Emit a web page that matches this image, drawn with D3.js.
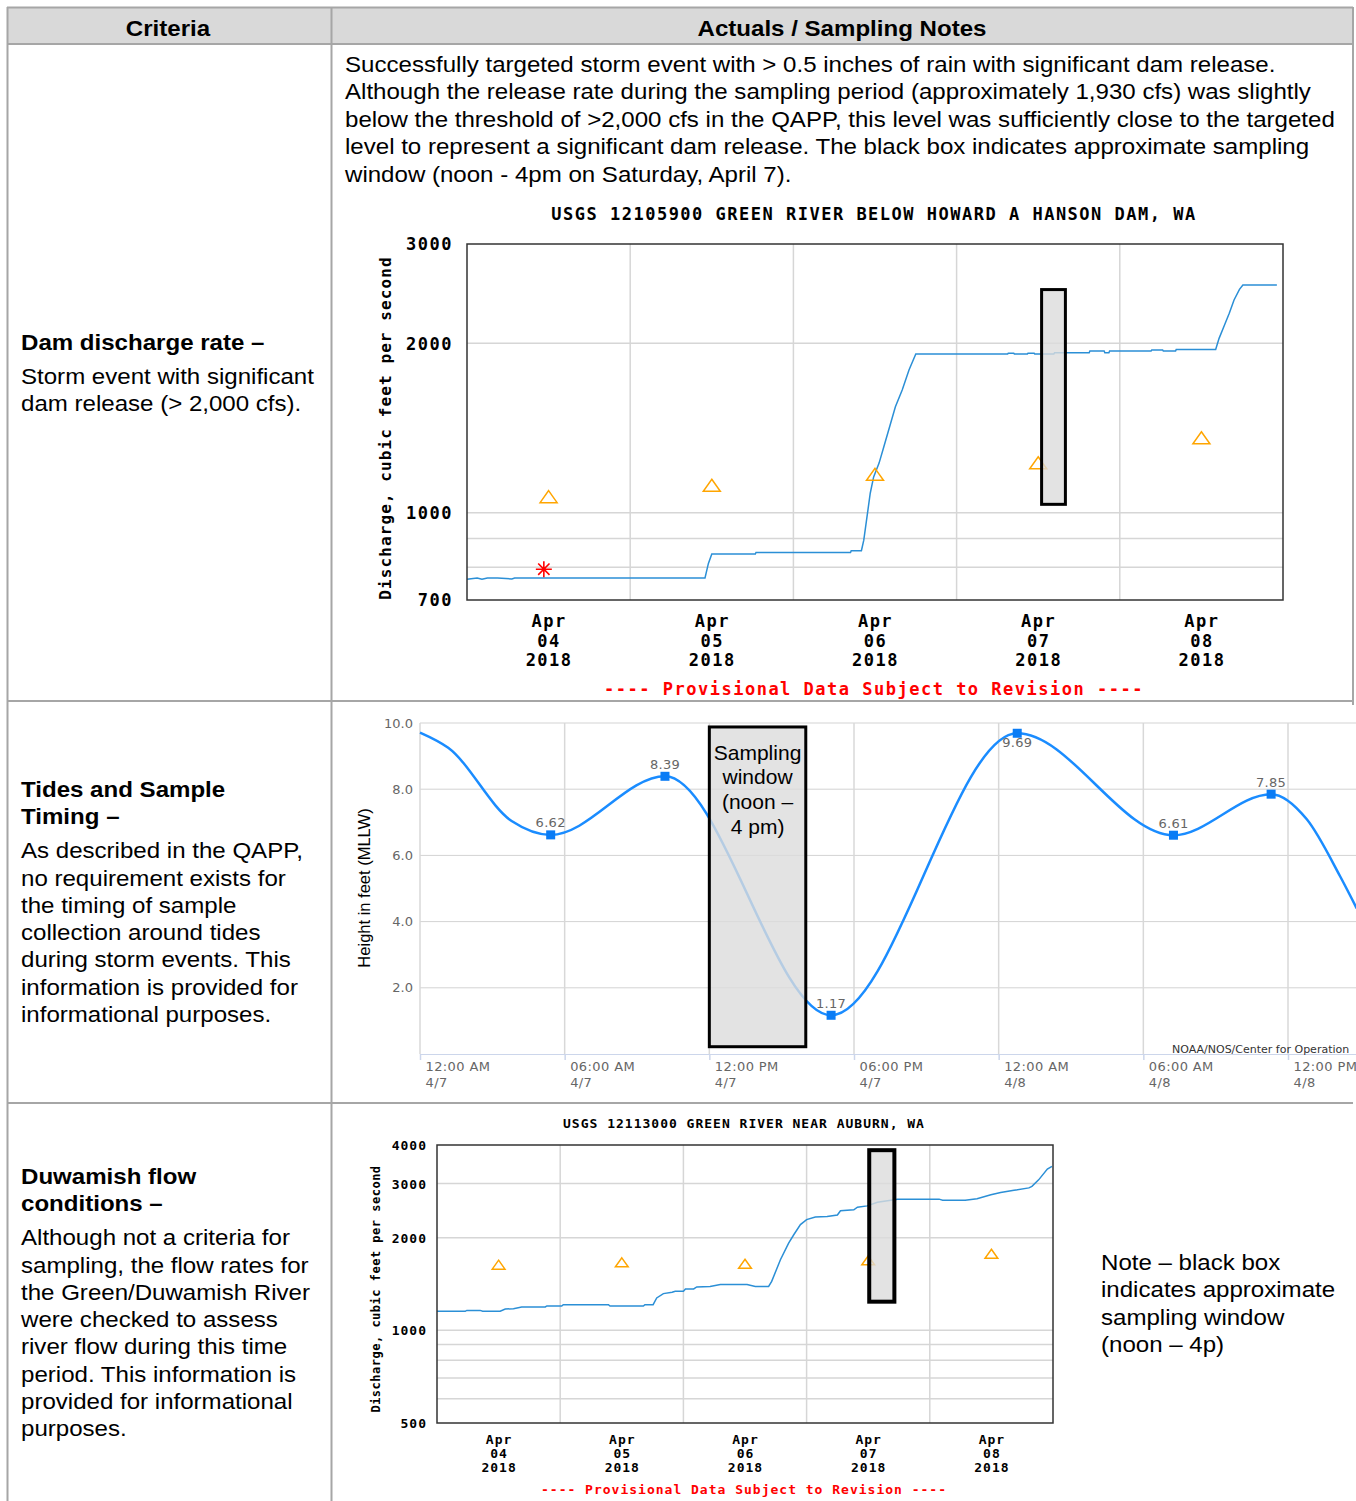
<!DOCTYPE html>
<html>
<head>
<meta charset="utf-8">
<script src="https://cdn.jsdelivr.net/npm/d3@7.9.0/dist/d3.min.js"></script>
<style>
  body { margin: 0; background: #fff; }
</style>
</head>
<body>
<div id="chart"></div>
<script>
// ---------- table text ----------
const headers = ["Criteria", "Actuals / Sampling Notes"];
const damCriteria = ["Dam discharge rate –", "Storm event with significant", "dam release (> 2,000 cfs)."];
const damCriteriaBold = 1;
const damNotes = [
  "Successfully targeted storm event with > 0.5 inches of rain with significant dam release.",
  "Although the release rate during the sampling period (approximately 1,930 cfs) was slightly",
  "below the threshold of >2,000 cfs in the QAPP, this level was sufficiently close to the targeted",
  "level to represent a significant dam release. The black box indicates approximate sampling",
  "window (noon - 4pm on Saturday, April 7)."
];
const tideCriteria = ["Tides and Sample", "Timing –", "As described in the QAPP,", "no requirement exists for",
  "the timing of sample", "collection around tides", "during storm events. This",
  "information is provided for", "informational purposes."];
const tideCriteriaBold = 2;
const flowCriteria = ["Duwamish flow", "conditions –", "Although not a criteria for", "sampling, the flow rates for",
  "the Green/Duwamish River", "were checked to assess", "river flow during this time",
  "period. This information is", "provided for informational", "purposes."];
const flowCriteriaBold = 2;
const flowNote = ["Note – black box", "indicates approximate", "sampling window", "(noon – 4p)"];

// ---------- USGS 12105900 (hours since Apr 4 00:00, cfs) ----------
const dayLabels = ["04", "05", "06", "07", "08"];
const dayNoonHours = [12, 36, 60, 84, 108];
const midnightHours = [24, 48, 72, 96];
const damHours = [0, 1.5, 2.2, 3, 4.5, 6.6, 7.0, 35.0, 35.5, 36.0, 42.4, 42.5, 56.4, 56.5, 58.0, 58.35,
  59.3, 59.8, 60.6, 61.3, 62.3, 63.0, 64.0, 65.0, 66.0, 79.5, 79.6, 80.4, 80.5, 82.4, 82.5, 83.4, 83.5,
  86.3, 86.4, 91.5, 91.6, 93.7, 93.8, 94.4, 94.5, 100.6, 100.7, 102.3, 102.4, 104.2, 104.3,
  110.1, 110.6, 111.4, 112.1, 112.8, 113.6, 114.1, 119.1];
const damCfs = [762, 766, 762, 766, 766, 763, 766, 766, 813, 845, 845, 850, 850, 856, 856, 894,
  1083, 1158, 1225, 1310, 1442, 1542, 1651, 1792, 1913, 1913, 1920, 1920, 1913, 1913, 1920, 1920, 1913,
  1913, 1924, 1924, 1937, 1937, 1924, 1924, 1937, 1937, 1946, 1946, 1937, 1937, 1950,
  1950, 2040, 2154, 2260, 2386, 2492, 2536, 2536];
const damMedianCfs = [1068, 1119, 1170, 1227, 1359];
const damMeasuredHour = [11.3];
const damMeasuredCfs = [794];
const damBoxHours = [84.5, 88];
const damBoxCfs = [1035, 2490];
const damTicks = [700, 1000, 2000, 3000];
const damGrid = [800, 900, 1000, 2000];

// ---------- USGS 12113000 ----------
const aubHours = [0, 5.5, 5.8, 8.4, 8.9, 12.3, 13.3, 14.9, 16.5, 21.1, 21.4, 24.3, 24.6, 33.4, 33.7, 40.2,
  40.5, 42.1, 42.8, 44.1, 45.8, 46.4, 48.0, 48.4, 50.0, 50.6, 53.2, 55.2, 60.4, 62.0, 64.6, 65.2, 66.9,
  68.5, 69.5, 70.8, 72.0, 73.7, 76.0, 78.0, 78.6, 81.2, 81.9, 83.8, 85.8, 88.4, 89.7, 97.8, 98.5, 102.9,
  105.2, 107.9, 109.8, 112.4, 115.3, 115.9, 117.2, 118.9, 119.8];
const aubCfs = [1153, 1153, 1161, 1161, 1153, 1153, 1173, 1176, 1191, 1191, 1200, 1200, 1212, 1212, 1200, 1200,
  1212, 1212, 1274, 1316, 1329, 1339, 1339, 1363, 1363, 1383, 1389, 1410, 1410, 1389, 1389, 1442, 1696,
  1921, 2044, 2205, 2289, 2335, 2344, 2369, 2445, 2463, 2513, 2537, 2605, 2647, 2668, 2668, 2647, 2647,
  2677, 2757, 2806, 2850, 2902, 2937, 3082, 3340, 3407];
const aubMedianCfs = [1634, 1663, 1646, 1688, 1774];
const aubBoxHours = [84.2, 89.1];
const aubBoxCfs = [1239, 3848];
const aubTicks = [500, 1000, 2000, 3000, 4000];
const aubGrid = [600, 700, 800, 900, 1000, 2000, 3000];

// ---------- tides (hours since Apr 7 00:00, feet MLLW) ----------
const tideHiLoHours = [5.42, 10.16, 17.05, 24.77, 31.25, 35.3];
const tideHiLoFeet = [6.62, 8.39, 1.17, 9.69, 6.61, 7.85];
const tideReadHours = [0, 1.17, 3.80, 36.78, 38.16, 38.85];
const tideReadFeet = [9.71, 9.25, 7.04, 7.09, 5.37, 4.40];
const tideTickHours = [0, 6, 12, 18, 24, 30, 36];
const tideTickTime = ["12:00 AM", "06:00 AM", "12:00 PM", "06:00 PM", "12:00 AM", "06:00 AM", "12:00 PM"];
const tideTickDay = ["4/7", "4/7", "4/7", "4/7", "4/8", "4/8", "4/8"];
const tideYTicks = [2, 4, 6, 8, 10];
const tideBoxHours = [12, 16];
const tideBoxFeet = [0.22, 9.88];
const tideBoxText = ["Sampling", "window", "(noon –", "4 pm)"];

// ---------- page ----------
const W = 1356, H = 1501;
const sans = "'Liberation Sans', Arial, sans-serif";
const mono = "'DejaVu Sans Mono', monospace";
const hc = "'DejaVu Sans', Verdana, sans-serif";
const lineGray = "#a6a6a6";
const stretch = 1.095; // the document text is set a little wider than Arial

const svg = d3.select('#chart').append('svg')
  .attr('width', W).attr('height', H);

// table
svg.append('rect').attr('x', 7).attr('y', 7).attr('width', 1346).attr('height', 37).attr('fill', '#d9d9d9');
const tableLines = [
  [7, 7.5, 1353, 7.5], [7, 44, 1353, 44], [7, 701, 1353, 701], [7, 1103, 1353, 1103],
  [7.5, 7, 7.5, H], [331.5, 7, 331.5, H], [1353, 7, 1353, 706]
];
svg.append('g').selectAll('line').data(tableLines).join('line')
  .attr('x1', d => d[0]).attr('y1', d => d[1]).attr('x2', d => d[2]).attr('y2', d => d[3])
  .attr('stroke', lineGray).attr('stroke-width', 2);

headers.forEach((h, i) => {
  svg.append('g').attr('transform', `translate(${i === 0 ? 168 : 842},0) scale(${stretch},1)`)
    .append('text')
    .attr('x', 0).attr('y', 28)
    .attr('text-anchor', 'middle').attr('dominant-baseline', 'central')
    .style('font-family', sans).style('font-size', '22px').style('font-weight', 'bold')
    .text(h);
});

function textBlock(lines, x, y0, step, nBold) {
  svg.append('g').attr('transform', `translate(${x},0) scale(${stretch},1)`)
    .selectAll('text').data(lines).join('text')
    .attr('x', 0).attr('y', (d, i) => y0 + i * step + (i >= nBold && nBold > 0 ? 7 : 0))
    .attr('dominant-baseline', 'central')
    .style('font-family', sans).style('font-size', '22px')
    .style('font-weight', (d, i) => i < nBold ? 'bold' : 'normal')
    .text(d => d);
}
textBlock(damCriteria, 21, 342, 27.3, damCriteriaBold);
textBlock(tideCriteria, 21, 789, 27.3, tideCriteriaBold);
textBlock(flowCriteria, 21, 1176, 27.3, flowCriteriaBold);
textBlock(damNotes, 345, 64, 27.5, 0);
textBlock(flowNote, 1101, 1262, 27.6, 0);

// ---------- USGS style chart ----------
function usgsChart(cfg) {
  const g = svg.append('g');
  const x = d3.scaleLinear().domain([0, 120]).range([cfg.left, cfg.right]);
  const y = d3.scaleLog().domain(cfg.yDomain).range([cfg.bottom, cfg.top]);
  const fs = cfg.fs;

  g.append('g').selectAll('line').data(cfg.grid).join('line')
    .attr('x1', cfg.left).attr('x2', cfg.right)
    .attr('y1', d => y(d)).attr('y2', d => y(d))
    .attr('stroke', '#d6d6d6').attr('stroke-width', 1.5);
  g.append('g').selectAll('line').data(midnightHours).join('line')
    .attr('x1', d => x(d)).attr('x2', d => x(d))
    .attr('y1', cfg.top).attr('y2', cfg.bottom)
    .attr('stroke', '#d6d6d6').attr('stroke-width', 1.5);

  const pts = cfg.hours.map((h, i) => [h, cfg.cfs[i]]);
  g.append('path').datum(pts)
    .attr('fill', 'none').attr('stroke', '#2b8fd6').attr('stroke-width', 1.5)
    .attr('d', d3.line().x(d => x(d[0])).y(d => y(d[1])));

  const tri = `M0,${-6 * cfg.tri}L${8.5 * cfg.tri},${6 * cfg.tri}L${-8.5 * cfg.tri},${6 * cfg.tri}Z`;
  g.append('g').selectAll('path').data(cfg.median).join('path')
    .attr('transform', (d, i) => `translate(${x(dayNoonHours[i])},${y(d)})`)
    .attr('d', tri).attr('fill', 'none').attr('stroke', '#ffa500').attr('stroke-width', 1.5);

  if (cfg.measuredHour) {
    const r = 8;
    g.append('g').selectAll('path').data(cfg.measuredHour).join('path')
      .attr('transform', (d, i) => `translate(${x(d)},${y(cfg.measuredCfs[i])})`)
      .attr('d', () => {
        const p = d3.path();
        [0, 45, 90, 135].forEach(a => {
          const c = Math.cos(a * Math.PI / 180) * r, s = Math.sin(a * Math.PI / 180) * r;
          p.moveTo(-c, -s); p.lineTo(c, s);
        });
        return p.toString();
      })
      .attr('stroke', '#ff0000').attr('stroke-width', 1.6);
  }

  // sampling window box
  g.append('rect')
    .attr('x', x(cfg.boxHours[0])).attr('y', y(cfg.boxCfs[1]))
    .attr('width', x(cfg.boxHours[1]) - x(cfg.boxHours[0]))
    .attr('height', y(cfg.boxCfs[0]) - y(cfg.boxCfs[1]))
    .attr('fill', '#dcdcdc').attr('fill-opacity', 0.8)
    .attr('stroke', '#000').attr('stroke-width', cfg.boxStroke);

  // frame
  g.append('rect')
    .attr('x', cfg.left).attr('y', cfg.top)
    .attr('width', cfg.right - cfg.left).attr('height', cfg.bottom - cfg.top)
    .attr('fill', 'none').attr('stroke', '#333').attr('stroke-width', 1.5);

  const styleText = sel => sel
    .style('font-family', mono).style('font-weight', 'bold')
    .style('font-size', fs + 'px').style('letter-spacing', cfg.ls + 'px');

  const ya = g.append('g')
    .attr('transform', `translate(${cfg.left},0)`)
    .call(d3.axisLeft(y).tickValues(cfg.ticks).tickFormat(d3.format('d')).tickSize(0).tickPadding(cfg.left - cfg.labelRight));
  ya.select('.domain').remove();
  ya.selectAll('text').attr('fill', '#000').call(styleText).attr('dy', '0.35em');

  const xa = g.append('g')
    .attr('transform', `translate(0,${cfg.bottom})`)
    .call(d3.axisBottom(x).tickValues(dayNoonHours).tickSize(0));
  xa.select('.domain').remove();
  xa.selectAll('text').each(function (d, i) {
    const t = d3.select(this).text(null).attr('y', 0).attr('dy', null).attr('fill', '#000').call(styleText);
    ['Apr', dayLabels[i], '2018'].forEach((s, k) => {
      t.append('tspan').attr('x', 0).attr('y', cfg.dateY + k * cfg.dateStep)
        .attr('dominant-baseline', 'central').text(s);
    });
  });

  g.append('text')
    .attr('x', (cfg.left + cfg.right) / 2 + cfg.titleDx).attr('y', cfg.titleY)
    .attr('text-anchor', 'middle').attr('dominant-baseline', 'central')
    .call(styleText).text(cfg.title);

  g.append('text')
    .attr('transform', `translate(${cfg.yTitleX},${cfg.yTitleY}) rotate(-90)`)
    .attr('text-anchor', 'middle').attr('dominant-baseline', 'central')
    .style('font-family', mono).style('font-weight', 'bold')
    .style('font-size', cfg.yfs + 'px').style('letter-spacing', cfg.yls + 'px')
    .text('Discharge, cubic feet per second');

  g.append('text')
    .attr('x', (cfg.left + cfg.right) / 2 + cfg.titleDx).attr('y', cfg.provY)
    .attr('text-anchor', 'middle').attr('dominant-baseline', 'central')
    .attr('fill', '#ff0000').call(styleText)
    .text('---- Provisional Data Subject to Revision ----');
}

usgsChart({
  left: 467, right: 1283, top: 244, bottom: 600, yDomain: [700, 3000],
  hours: damHours, cfs: damCfs, median: damMedianCfs,
  measuredHour: damMeasuredHour, measuredCfs: damMeasuredCfs,
  boxHours: damBoxHours, boxCfs: damBoxCfs, boxStroke: 3,
  ticks: damTicks, grid: damGrid, labelRight: 453,
  fs: 17, ls: 1.5, yfs: 16, yls: 1.1, tri: 1,
  title: 'USGS 12105900 GREEN RIVER BELOW HOWARD A HANSON DAM, WA',
  titleY: 214, titleDx: -1, provY: 689,
  dateY: 21, dateStep: 19.5, yTitleX: 385, yTitleY: 428
});

usgsChart({
  left: 437, right: 1053, top: 1145, bottom: 1423, yDomain: [500, 4000],
  hours: aubHours, cfs: aubCfs, median: aubMedianCfs,
  boxHours: aubBoxHours, boxCfs: aubBoxCfs, boxStroke: 4,
  ticks: aubTicks, grid: aubGrid, labelRight: 427,
  fs: 13, ls: 1, yfs: 12, yls: 0.5, tri: 0.75,
  title: 'USGS 12113000 GREEN RIVER NEAR AUBURN, WA',
  titleY: 1123, titleDx: -1, provY: 1489,
  dateY: 16, dateStep: 14, yTitleX: 376, yTitleY: 1289
});

// ---------- tide chart ----------
{
  const g = svg.append('g');
  svg.append('clipPath').attr('id', 'tideClip')
    .append('rect').attr('x', 340).attr('y', 705).attr('width', W - 340).attr('height', 393);
  g.attr('clip-path', 'url(#tideClip)');
  g.append('rect').attr('x', 340).attr('y', 705).attr('width', W - 340).attr('height', 393).attr('fill', '#fff');

  const x = d3.scaleLinear().domain([0, 36]).range([420, 1288]);
  const y = d3.scaleLinear().domain([0, 10]).range([1054, 723]);

  g.append('g').selectAll('line').data(tideYTicks).join('line')
    .attr('x1', 420).attr('x2', W).attr('y1', d => y(d)).attr('y2', d => y(d))
    .attr('stroke', '#d3d3d3').attr('stroke-width', 1);
  g.append('g').selectAll('line').data(tideTickHours).join('line')
    .attr('x1', d => x(d)).attr('x2', d => x(d)).attr('y1', y(10)).attr('y2', y(0))
    .attr('stroke', '#d8d8d8').attr('stroke-width', 1.5);

  const xa = g.append('g').attr('transform', `translate(0,${y(0)})`)
    .call(d3.axisBottom(x).tickValues(tideTickHours).tickSize(6).tickSizeOuter(0));
  xa.select('.domain').attr('d', `M420,0.5H${W}`).attr('stroke', '#ccd6eb');
  xa.selectAll('.tick line').attr('stroke', '#ccd6eb').attr('stroke-width', 1.5);
  xa.selectAll('.tick text').each(function (d, i) {
    const t = d3.select(this).text(null).attr('y', 0).attr('dy', null)
      .attr('text-anchor', 'start').attr('fill', '#666')
      .style('font-family', hc).style('font-size', '13px').style('letter-spacing', '0.4px');
    t.append('tspan').attr('x', 5).attr('y', 12).attr('dominant-baseline', 'central').text(tideTickTime[i]);
    t.append('tspan').attr('x', 5).attr('y', 28).attr('dominant-baseline', 'central').text(tideTickDay[i]);
  });

  const ya = g.append('g').attr('transform', 'translate(420,0)')
    .call(d3.axisLeft(y).tickValues(tideYTicks).tickFormat(d3.format('.1f')).tickSize(0).tickPadding(7));
  ya.select('.domain').remove();
  ya.selectAll('text').attr('fill', '#666').style('font-family', hc).style('font-size', '13px');

  g.append('text')
    .attr('transform', `translate(364,${888}) rotate(-90)`)
    .attr('text-anchor', 'middle').attr('dominant-baseline', 'central')
    .style('font-family', sans).style('font-size', '16.5px')
    .text('Height in feet (MLLW)');

  const curvePts = tideHiLoHours.map((h, i) => [h, tideHiLoFeet[i]])
    .concat(tideReadHours.map((h, i) => [h, tideReadFeet[i]]))
    .sort((a, b) => a[0] - b[0]);
  g.append('path').datum(curvePts)
    .attr('fill', 'none').attr('stroke', '#1a8cff').attr('stroke-width', 2.5)
    .attr('d', d3.line().curve(d3.curveMonotoneX).x(d => x(d[0])).y(d => y(d[1])));

  g.append('g').selectAll('rect').data(tideHiLoFeet).join('rect')
    .attr('x', (d, i) => x(tideHiLoHours[i]) - 4.5).attr('y', d => y(d) - 4.5)
    .attr('width', 9).attr('height', 9).attr('fill', '#0a7cf5');

  g.append('g').selectAll('text').data(tideHiLoFeet).join('text')
    .attr('x', (d, i) => x(tideHiLoHours[i])).attr('y', d => y(d) + (d > 9.5 ? 9 : -12))
    .attr('text-anchor', 'middle').attr('dominant-baseline', 'central')
    .attr('fill', '#666').style('font-family', hc).style('font-size', '13px')
    .style('letter-spacing', '0.3px')
    .text(d => d.toFixed(2));

  g.append('text').attr('x', 1172).attr('y', 1049)
    .attr('dominant-baseline', 'central').attr('fill', '#333')
    .style('font-family', hc).style('font-size', '11px')
    .text('NOAA/NOS/Center for Operation');

  // sampling window box
  const bx0 = x(tideBoxHours[0]), bx1 = x(tideBoxHours[1]);
  g.append('rect')
    .attr('x', bx0).attr('y', y(tideBoxFeet[1]))
    .attr('width', bx1 - bx0).attr('height', y(tideBoxFeet[0]) - y(tideBoxFeet[1]))
    .attr('fill', '#dcdcdc').attr('fill-opacity', 0.8)
    .attr('stroke', '#000').attr('stroke-width', 3);
  g.append('g').selectAll('text').data(tideBoxText).join('text')
    .attr('x', (bx0 + bx1) / 2).attr('y', (d, i) => 752 + i * 24.7)
    .attr('text-anchor', 'middle').attr('dominant-baseline', 'central')
    .style('font-family', sans).style('font-size', '21px')
    .text(d => d);
}
</script>
</body>
</html>
